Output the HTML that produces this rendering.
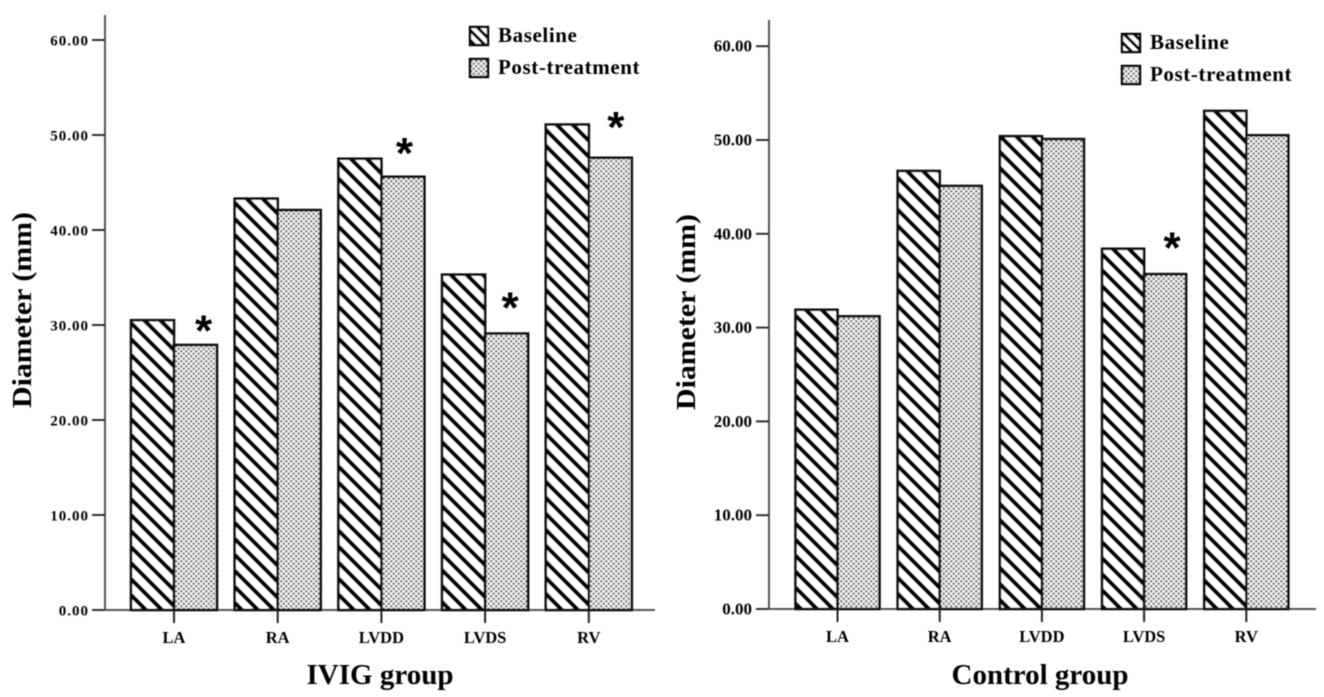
<!DOCTYPE html>
<html lang="en">
<head>
<meta charset="utf-8">
<title>Cardiac chamber diameters: IVIG and control groups</title>
<style>
html,body{margin:0;padding:0;background:#fff;width:1324px;height:697px;overflow:hidden}
svg{display:block}
text{font-family:"Liberation Serif",serif;font-weight:bold;fill:#000}
</style>
</head>
<body>
<svg id="chart" width="1324" height="697" viewBox="0 0 1324 697" xmlns="http://www.w3.org/2000/svg">
<defs>
<pattern id="hatch" patternUnits="userSpaceOnUse" width="16" height="16">
<rect width="16" height="16" fill="#fff"/>
<path d="M-4,12 L4,20 M-4,-4 L20,20 M12,-4 L20,4" stroke="#000" stroke-width="4.3"/>
</pattern>
<pattern id="hatch-small" patternUnits="userSpaceOnUse" width="10" height="10">
<rect width="10" height="10" fill="#fff"/>
<path d="M-3,7 L3,13 M-3,-3 L13,13 M7,-3 L13,3" stroke="#000" stroke-width="3"/>
</pattern>
<pattern id="dots" patternUnits="userSpaceOnUse" width="5" height="5">
<rect width="5" height="5" fill="#f1f1f1"/>
<circle cx="1.25" cy="1.25" r="1.1" fill="#555"/>
<circle cx="3.75" cy="3.75" r="1.1" fill="#555"/>
</pattern>
<filter id="soft" x="-2%" y="-2%" width="104%" height="104%"><feGaussianBlur stdDeviation="0.4"/></filter>
</defs>
<g id="root" filter="url(#soft)"></g>
</svg>
<script>
const categories = ['LA', 'RA', 'LVDD', 'LVDS', 'RV'];
const yTickValues = [0, 10, 20, 30, 40, 50, 60];
const seriesNames = ['Baseline', 'Post-treatment'];

const ivigBaseline = [30.5, 43.3, 47.5, 35.3, 51.1];
const ivigPost = [27.9, 42.1, 45.6, 29.1, 47.6];
const ivigStarLevels = [30, null, 48.7, 32.4, 51.4];

const controlBaseline = [31.9, 46.7, 50.4, 38.4, 53.1];
const controlPost = [31.2, 45.1, 50.1, 35.7, 50.5];
const controlStarLevels = [null, null, null, 39.1, null];

const NS = 'http://www.w3.org/2000/svg';
const root = document.getElementById('root');

function make(tag, attrs, parent, txt) {
  const el = document.createElementNS(NS, tag);
  for (const k in attrs) el.setAttribute(k, attrs[k]);
  if (txt !== undefined) el.textContent = txt;
  parent.appendChild(el);
  return el;
}

function drawPanel(cfg) {
  const y = v => cfg.y0 - v * cfg.pxPerUnit;
  const xCenter = i => cfg.firstCenter + i * cfg.step;
  const g = make('g', {}, root);
  
  

  const yAxis = make('line', {x1: cfg.axisX, x2: cfg.axisX, y1: cfg.axisTop, y2: cfg.y0, stroke: '#555', 'stroke-width': 2}, g);
  
  
  const xAxis = make('line', {x1: cfg.axisX, x2: cfg.axisRight, y1: cfg.y0, y2: cfg.y0, stroke: '#555', 'stroke-width': 2}, g);
  
  

  categories.forEach((cat, i) => {
    const c = xCenter(i);
    const b = make('rect', {x: c - cfg.barW, y: y(cfg.baseline[i]), width: cfg.barW, height: cfg.y0 - y(cfg.baseline[i]), fill: 'url(#hatch)', stroke: '#111', 'stroke-width': 2.6}, g);
    
    
    const p = make('rect', {x: c, y: y(cfg.post[i]), width: cfg.barW, height: cfg.y0 - y(cfg.post[i]), fill: 'url(#dots)', stroke: '#111', 'stroke-width': 2.6}, g);
    
    

    const tick = make('line', {x1: c, x2: c, y1: cfg.y0, y2: cfg.y0 + 13, stroke: '#222', 'stroke-width': 2}, g);
    
    
    const lab = make('text', {x: c, y: cfg.y0 + 33, 'text-anchor': 'middle', 'font-size': 16.5}, g, cat);
    
    

    if (cfg.stars[i] !== null) {
      const s = make('text', {x: c + cfg.barW / 2 + cfg.starDx[i], y: y(cfg.stars[i]) + 20.5, 'text-anchor': 'middle', 'font-size': 44, style: 'font-family:"Liberation Sans",sans-serif'}, g, '*');
      
      
    }
  });

  yTickValues.forEach(v => {
    const t = make('line', {x1: cfg.axisX - 13, x2: cfg.axisX, y1: y(v), y2: y(v), stroke: '#333', 'stroke-width': 2}, g);
    
    
    const l = make('text', {x: cfg.axisX - cfg.labelGap, y: y(v) + 5.5, 'text-anchor': 'end', 'font-size': cfg.tickFont, 'letter-spacing': cfg.tickSpacing}, g, v.toFixed(2));
    
    
  });

  const yTitle = make('text', {x: 0, y: 0, transform: 'translate(' + cfg.yTitleX + ' ' + cfg.yTitleY + ') rotate(-90)', 'text-anchor': 'middle', 'font-size': 27, textLength: 196, lengthAdjust: 'spacingAndGlyphs'}, g, 'Diameter (mm)');
  
  
  const xTitle = make('text', {x: cfg.xTitleX, y: 684, 'text-anchor': 'middle', 'font-size': 28, textLength: cfg.xTitleLen, lengthAdjust: 'spacingAndGlyphs'}, g, cfg.title);
  
  

  seriesNames.forEach((n, i) => {
    const ly = cfg.legendY + i * 32;
    const sw = make('rect', {x: cfg.legendX, y: ly, width: 18, height: 18, fill: i === 0 ? 'url(#hatch-small)' : 'url(#dots)', stroke: '#000', 'stroke-width': 2.4}, g);
    
    
    const tx = make('text', {x: cfg.legendX + 28, y: ly + 15, 'font-size': 21, 'letter-spacing': 0.6}, g, n);
    
    
  });
}

drawPanel({name: 'ivig-group-chart', title: 'IVIG group', baseline: ivigBaseline, post: ivigPost, stars: ivigStarLevels,
  starDx: [8, 0, 1.5, 3.5, 5.5],
  y0: 610, pxPerUnit: 9.5, firstCenter: 174, step: 103.7, barW: 43, axisX: 105, axisTop: 15, axisRight: 655,
  tickFont: 15, tickSpacing: 1, labelGap: 16, yTitleX: 31, yTitleY: 310, xTitleX: 380, xTitleLen: 147, legendX: 470, legendY: 27});
drawPanel({name: 'control-group-chart', title: 'Control group', baseline: controlBaseline, post: controlPost, stars: controlStarLevels,
  starDx: [0, 0, 0, 7, 0],
  y0: 609, pxPerUnit: 9.38, firstCenter: 837.5, step: 102.2, barW: 42, axisX: 769, axisTop: 20, axisRight: 1316,
  tickFont: 17, tickSpacing: 0, labelGap: 17, yTitleX: 695, yTitleY: 312, xTitleX: 1040, xTitleLen: 177, legendX: 1122, legendY: 34});
</script>
</body>
</html>
